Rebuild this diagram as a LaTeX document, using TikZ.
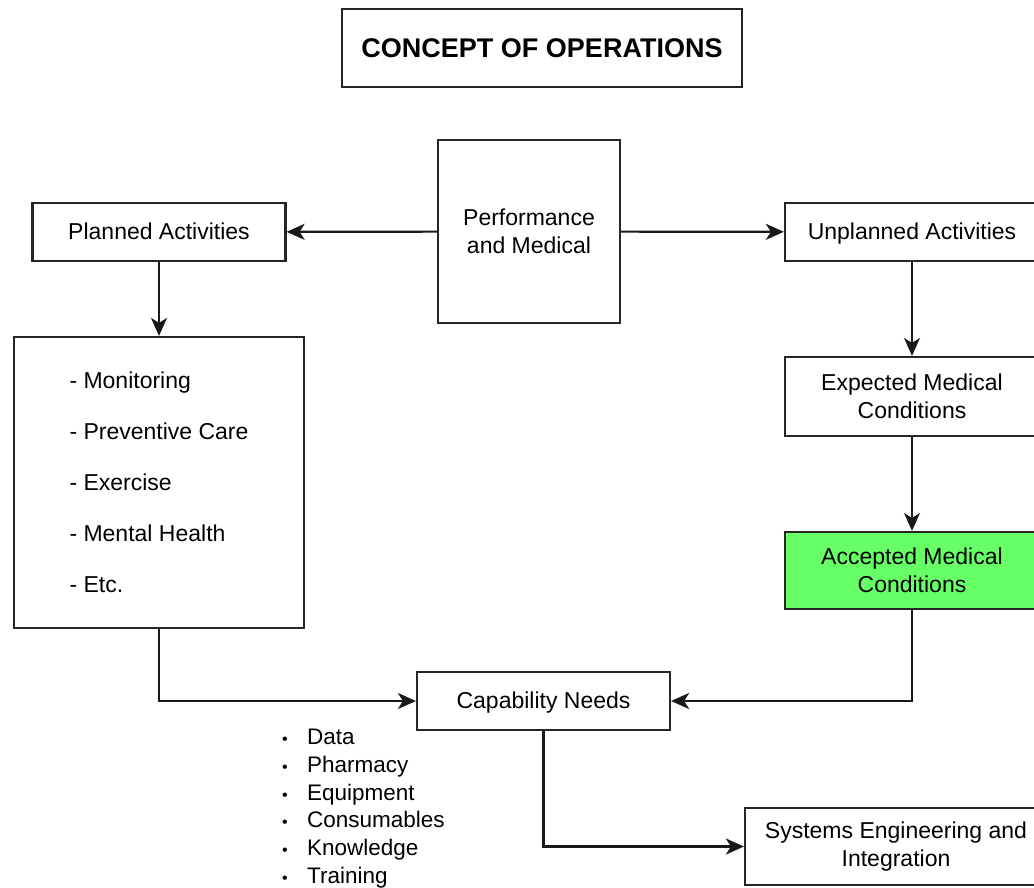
\documentclass[tikz,border=0pt]{standalone}
\usepackage{fontspec}
\setmainfont{Liberation Sans}
\usetikzlibrary{arrows.meta,positioning}
\definecolor{okgreen}{HTML}{66FF66}

\tikzset{
  box/.style={draw=black!85, line width=2.2pt, inner sep=0pt, align=center,
    font=\fontsize{23}{27.6}\selectfont},
  oneline/.style={box, text height=19pt, text depth=3.5pt},
  arr/.style={-{Stealth[length=18pt,width=16pt,inset=5pt]}, line width=2.2pt, black!90}
}
\newcommand{\needitem}[1]{\makebox[25pt][l]{\fontsize{16}{16}\selectfont\textbullet}#1}

\begin{document}
\begin{tikzpicture}[x=1pt,y=-1pt]
\useasboundingbox (0,0) rectangle (1034,887);

% Title
\node[box, minimum width=400pt, minimum height=78pt,
  font=\fontsize{27}{32}\selectfont\bfseries] (title) at (542,48) {CONCEPT OF OPERATIONS};

% Top row
\node[box, minimum width=182pt, minimum height=183pt] (perf) at (529,231.5) {Performance\\and Medical};
\node[oneline, minimum width=253pt, minimum height=58pt] (planned) at (159,232) {Planned Activities};
\node[oneline, minimum width=254pt, minimum height=58pt] (unplanned) at (912,232) {Unplanned Activities};

% Planned side
\node[box, minimum width=290pt, minimum height=291pt, align=left] (activities) at (159,482.5)
  {- Monitoring\\[23.4pt] - Preventive Care\\[23.4pt] - Exercise\\[23.4pt] - Mental Health\\[23.4pt] - Etc.};

% Unplanned side
\node[box, minimum width=254pt, minimum height=79pt] (expected) at (912,396.5) {Expected Medical\\Conditions};
\node[box, fill=okgreen, minimum width=254pt, minimum height=77pt] (accepted) at (912,570.5) {Accepted Medical\\Conditions};

% Bottom
\node[oneline, minimum width=253pt, minimum height=58pt] (capability) at (543.5,701) {Capability Needs};
\node[box, minimum width=302pt, minimum height=77pt] (systems) at (896,846.5) {Systems Engineering and\\Integration};

\node[anchor=north west, inner sep=0pt, align=left,
  font=\fontsize{22.5}{27.7}\selectfont] (needs) at (282,729)
  {\needitem{Data}\\ \needitem{Pharmacy}\\ \needitem{Equipment}\\
   \needitem{Consumables}\\ \needitem{Knowledge}\\ \needitem{Training}};

% Connectors
\draw[arr] (perf) -- (planned);
\draw[arr] (perf) -- (unplanned);
\draw[arr] (planned) -- (activities);
\draw[arr] (unplanned) -- (expected);
\draw[arr] (expected) -- (accepted);
\draw[arr] (activities.south) |- (capability.west);
\draw[arr] (accepted.south) |- (capability.east);
\draw[arr] (capability.south) |- (systems.west);
\end{tikzpicture}
\end{document}
